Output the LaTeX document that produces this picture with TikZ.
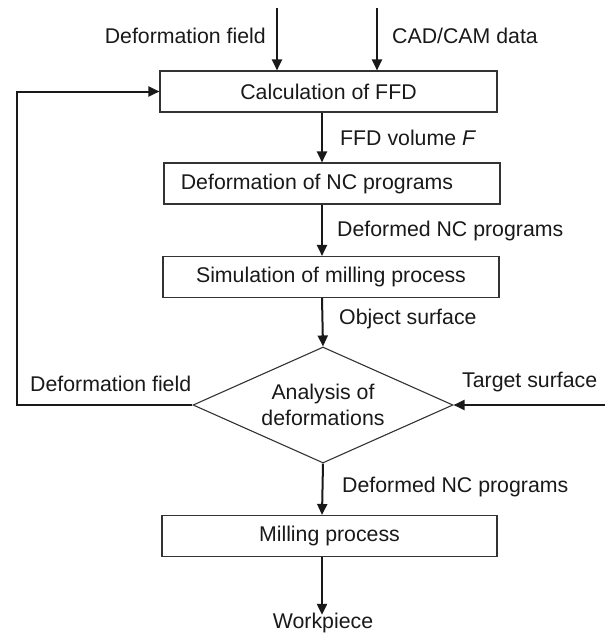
\documentclass[tikz,border=0pt]{standalone}
\usepackage{fontspec}
\setmainfont{Liberation Sans}
\usetikzlibrary{arrows.meta,shapes.geometric}
\begin{document}
\begin{tikzpicture}[x=1pt,y=-1pt,
  every node/.style={font=\fontsize{21.3}{25.5}\selectfont, text=black!90},
  procbox/.style={draw=black!80, line width=1.1pt, rectangle, inner sep=0pt, minimum height=41pt},
  decbox/.style={draw=black!80, line width=1.1pt, diamond, inner sep=0pt, aspect=2.24, minimum width=260pt, minimum height=116pt, align=center},
  lbl/.style={inner sep=0pt},
  arr/.style={line width=2pt, black!90, -{Triangle[length=11pt,width=10pt]}},
  con/.style={line width=2pt, black!90}]
\useasboundingbox (0,0) rectangle (605,633);
\node[procbox, minimum width=337pt] (ffd) at (328.5,91.5) {Calculation of FFD};
\node[procbox, minimum width=336pt] (dnc) at (332,183.5) {\hspace*{-30pt}Deformation of NC programs};
\node[procbox, minimum width=336pt] (sim) at (331,277) {Simulation of milling process};
\node[decbox] (dia) at (323,405) {Analysis of\\deformations};
\node[procbox, minimum width=335pt] (mill) at (329.5,536) {Milling process};
\node[lbl] (wp) at (323,623) {Workpiece};
\coordinate (in1) at (277,8);
\coordinate (in2) at (377,8);
\coordinate (col) at (322,0);
\coordinate (fb) at (17,0);
\coordinate (ts) at (605,405);
\draw[arr] (in1) -- (in1 |- ffd.north);
\draw[arr] (in2) -- (in2 |- ffd.north);
\draw[arr] (col |- ffd.south) -- (col |- dnc.north);
\draw[arr] (col |- dnc.south) -- (col |- sim.north);
\draw[arr] (col |- sim.south) -- (dia.north);
\draw[arr] (dia.south) -- (col |- mill.north);
\draw[arr] (col |- mill.south) -- ([yshift=-2pt]wp.north -| col);
\draw[arr] (dia.west) -- (fb |- dia.west) |- (ffd.west);
\draw[arr] (ts) -- (dia.east);
\node[lbl, anchor=east] (l1) at (266,36) {Deformation field};
\node[lbl, anchor=west] (l2) at (392,36) {CAD/CAM data};
\node[lbl, anchor=west] (l3) at (340,138) {FFD volume \textit{F}};
\node[lbl, anchor=west] (l4) at (337,231) {Deformed NC programs};
\node[lbl, anchor=west] (l5) at (339,319) {Object surface};
\node[lbl, anchor=west] (l6) at (30,384) {Deformation field};
\node[lbl, anchor=west] (l7) at (462,382) {Target surface};
\node[lbl, anchor=west] (l8) at (342,487) {Deformed NC programs};
\end{tikzpicture}
\end{document}
